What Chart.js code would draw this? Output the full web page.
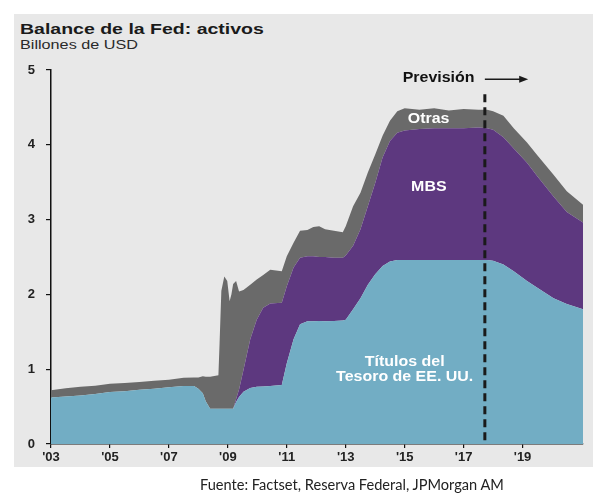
<!DOCTYPE html>
<html>
<head>
<meta charset="utf-8">
<script src="https://cdn.jsdelivr.net/npm/chart.js@4.4.1/dist/chart.umd.min.js"></script>
<style>
  body { margin: 0; width: 612px; height: 503px; background: #fff; position: relative; overflow: hidden; font-family: "Liberation Sans", Arial, sans-serif; }
  #panel { position: absolute; left: 14px; top: 14px; width: 579px; height: 453px; background: #e8e8e8; }
  #title { position: absolute; left: 20px; top: 20.6px; font-size: 15px; line-height: 15px; font-weight: bold; color: #1a1a1a; transform: scaleX(1.3); transform-origin: 0 0; white-space: nowrap; }
  #subtitle { position: absolute; left: 20px; top: 39.1px; font-size: 12px; line-height: 12px; color: #2a2a2a; transform: scaleX(1.35); transform-origin: 0 0; white-space: nowrap; }
  #source { position: absolute; left: 200px; top: 478.2px; font-family: Lato, "Open Sans", sans-serif; font-size: 14.6px; line-height: 14.6px; color: #222; white-space: nowrap; }
  canvas { position: absolute; left: 0; top: 0; }
</style>
</head>
<body>
<div id="panel"></div>
<div id="title">Balance de la Fed: activos</div>
<div id="subtitle">Billones de USD</div>
<canvas id="fedChart" width="612" height="503"></canvas>
<div id="source">Fuente: Factset, Reserva Federal, JPMorgan AM</div>
<script>
// fechas en años decimales
const dates = [
  2003.00, 2003.50, 2004.00, 2004.50, 2005.00, 2005.50, 2006.00, 2006.50, 2007.00, 2007.50,
  2007.85, 2008.00, 2008.15, 2008.25, 2008.40, 2008.68, 2008.72, 2008.78, 2008.88, 2008.98,
  2009.06, 2009.12, 2009.18, 2009.28, 2009.38, 2009.53, 2009.76, 2009.98, 2010.20, 2010.44,
  2010.83, 2011.00, 2011.23, 2011.45, 2011.70, 2011.90, 2012.10, 2012.30, 2012.60, 2012.90,
  2013.00, 2013.25, 2013.50, 2013.75, 2014.00, 2014.25, 2014.50, 2014.75, 2015.00, 2015.50,
  2016.00, 2016.50, 2017.00, 2017.50, 2017.80, 2018.00, 2018.35, 2018.70, 2019.15, 2019.50,
  2020.05, 2020.50, 2021.05
];

const treasuries = [
  0.62, 0.635, 0.65, 0.67, 0.695, 0.705, 0.725, 0.74, 0.76, 0.775,
  0.775, 0.74, 0.68, 0.57, 0.47, 0.47, 0.47, 0.47, 0.47, 0.47,
  0.47, 0.47, 0.47, 0.56, 0.63, 0.70, 0.75, 0.765, 0.77, 0.775,
  0.79, 1.08, 1.40, 1.60, 1.64, 1.64, 1.645, 1.64, 1.645, 1.65,
  1.66, 1.80, 1.95, 2.13, 2.27, 2.38, 2.44, 2.46, 2.46, 2.46,
  2.46, 2.46, 2.46, 2.46, 2.46, 2.45, 2.40, 2.31, 2.18, 2.09,
  1.95, 1.87, 1.80
];

const mbs = [
  0, 0, 0, 0, 0, 0, 0, 0, 0, 0,
  0, 0, 0, 0, 0, 0, 0, 0, 0, 0,
  0, 0, 0, 0.04, 0.10, 0.29, 0.65, 0.895, 1.05, 1.105,
  1.10, 1.03, 0.96, 0.89, 0.87, 0.87, 0.855, 0.86, 0.845, 0.84,
  0.86, 0.85, 0.92, 1.05, 1.22, 1.45, 1.61, 1.70, 1.73, 1.75,
  1.76, 1.76, 1.76, 1.77, 1.76, 1.75, 1.70, 1.64, 1.58, 1.49,
  1.36, 1.23, 1.16
];

const otras = [
  0.10, 0.11, 0.115, 0.11, 0.11, 0.11, 0.105, 0.105, 0.10, 0.11,
  0.115, 0.15, 0.225, 0.33, 0.43, 0.45, 0.88, 1.58, 1.77, 1.71,
  1.44, 1.53, 1.67, 1.58, 1.31, 1.07, 0.73, 0.54, 0.44, 0.45,
  0.42, 0.40, 0.33, 0.36, 0.35, 0.39, 0.41, 0.37, 0.36, 0.34,
  0.39, 0.53, 0.49, 0.45, 0.38, 0.29, 0.27, 0.29, 0.30, 0.26,
  0.27, 0.24, 0.26, 0.24, 0.25, 0.25, 0.29, 0.27, 0.27, 0.28,
  0.29, 0.28, 0.24
];

const tickYears = [2003, 2005, 2007, 2009, 2011, 2013, 2015, 2017, 2019];
const forecastStart = 2017.72;

const BLUE = "#72adc4";
const PURPLE = "#5d387f";
const GRAY = "#6a6a6a";

function points(values) {
  return dates.map((d, i) => ({ x: d, y: values[i] }));
}

function stretchText(ctx, str, x, y, sx) {
  ctx.save();
  ctx.translate(x, y);
  ctx.scale(sx, 1);
  ctx.fillText(str, 0, 0);
  ctx.restore();
}

const notesPlugin = {
  id: "notes",
  afterDatasetsDraw(chart) {
    const ctx = chart.ctx;
    const x = chart.scales.x;
    const y = chart.scales.y;

    // linea de prevision
    const fx = x.getPixelForValue(forecastStart);
    ctx.save();
    ctx.strokeStyle = "#1a1a1a";
    ctx.lineWidth = 3;
    ctx.setLineDash([8, 5]);
    ctx.beginPath();
    ctx.moveTo(fx, y.getPixelForValue(4.675));
    ctx.lineTo(fx, y.getPixelForValue(0));
    ctx.stroke();
    ctx.setLineDash([]);

    // flecha
    const ay = y.getPixelForValue(4.875);
    const ax2 = x.getPixelForValue(2019.19);
    ctx.lineWidth = 1.5;
    ctx.beginPath();
    ctx.moveTo(fx, ay);
    ctx.lineTo(ax2 - 6, ay);
    ctx.stroke();
    ctx.fillStyle = "#1a1a1a";
    ctx.beginPath();
    ctx.moveTo(ax2, ay);
    ctx.lineTo(ax2 - 9, ay - 3.5);
    ctx.lineTo(ax2 - 9, ay + 3.5);
    ctx.closePath();
    ctx.fill();

    ctx.textAlign = "center";
    ctx.textBaseline = "middle";
    ctx.font = "bold 14px 'Liberation Sans', Arial, sans-serif";
    ctx.fillStyle = "#111";
    stretchText(ctx, "Previsión", x.getPixelForValue(2016.15), y.getPixelForValue(4.886), 1.14);

    ctx.fillStyle = "#ffffff";
    stretchText(ctx, "Otras", x.getPixelForValue(2015.81), y.getPixelForValue(4.34), 1.14);
    stretchText(ctx, "MBS", x.getPixelForValue(2015.82), y.getPixelForValue(3.44), 1.14);
    stretchText(ctx, "Títulos del", x.getPixelForValue(2015.0), y.getPixelForValue(1.09), 1.14);
    stretchText(ctx, "Tesoro de EE. UU.", x.getPixelForValue(2015.0), y.getPixelForValue(0.89), 1.14);
    ctx.restore();
  }
};

Chart.defaults.font.family = "'Liberation Sans', Arial, sans-serif";

new Chart(document.getElementById("fedChart"), {
  type: "line",
  data: {
    datasets: [
      {
        label: "Títulos del Tesoro de EE. UU.",
        data: points(treasuries),
        backgroundColor: BLUE,
        borderWidth: 0,
        pointRadius: 0,
        fill: "origin",
      },
      {
        label: "MBS",
        data: points(mbs),
        backgroundColor: PURPLE,
        borderWidth: 0,
        pointRadius: 0,
        fill: "-1",
      },
      {
        label: "Otras",
        data: points(otras),
        backgroundColor: GRAY,
        borderWidth: 0,
        pointRadius: 0,
        fill: "-1",
      },
    ],
  },
  options: {
    responsive: false,
    animation: false,
    layout: {
      padding: { left: 11, right: 29, top: 70, bottom: 34 },
    },
    plugins: {
      legend: { display: false },
      tooltip: { enabled: false },
    },
    scales: {
      x: {
        type: "linear",
        min: 2003,
        max: 2021.05,
        z: 1,
        afterBuildTicks: (axis) => {
          axis.ticks = tickYears.map((v) => ({ value: v }));
        },
        afterFit: (axis) => {
          axis.height = 25;
        },
        ticks: {
          callback: (v) => "'" + String(v).slice(2),
          color: "#222",
          font: { size: 13, weight: "bold" },
          padding: 2,
          maxRotation: 0,
        },
        grid: {
          drawOnChartArea: false,
          color: "#111",
          tickLength: 4,
          lineWidth: 1.2,
        },
        border: { display: true, color: "#111", width: 1.5 },
      },
      y: {
        stacked: true,
        min: 0,
        max: 5,
        z: 1,
        afterFit: (axis) => {
          axis.width = 40;
        },
        ticks: {
          stepSize: 1,
          color: "#222",
          font: { size: 13, weight: "bold" },
          padding: 11,
        },
        grid: {
          drawOnChartArea: false,
          color: "#111",
          tickLength: 5,
          lineWidth: 1.2,
        },
        border: { display: true, color: "#111", width: 1.5 },
      },
    },
  },
  plugins: [notesPlugin],
});
</script>
</body>
</html>
